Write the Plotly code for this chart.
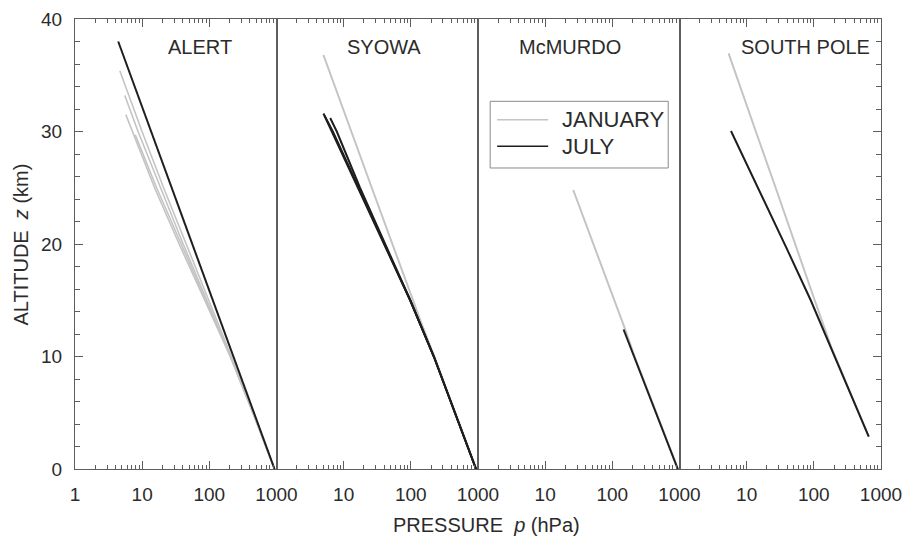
import plotly.graph_objects as go

FONT = "Liberation Sans, Arial, Helvetica, sans-serif"
AXIS = "#5e5e5e"
TXT = "#2b2b2b"
JAN_COLOR = "#c4c4c4"
JUL_COLOR = "#1e1e1e"

STATIONS = ["ALERT", "SYOWA", "McMURDO", "SOUTH POLE"]

# ---- ALERT: altitude z (km) and pressure p (hPa) ----
ALERT_JUL_Z = [0, 5, 10, 15, 20, 25, 30, 35, 38.0]
ALERT_JUL_P = [935, 461, 228, 112.6, 55.6, 27.5, 13.6, 6.7, 4.4]
ALERT_JAN_Z = [
    [0, 5, 10, 15, 20, 25, 30, 35.4],
    [0, 5, 10, 15, 20, 25, 30, 33.2],
    [0, 5, 10, 15, 20, 25, 29.7],
    [0, 5, 10, 15, 20, 25, 30, 31.5],
]
ALERT_JAN_P = [
    [933, 445.6, 212.6, 98.0, 45.2, 20.85, 9.95, 4.65],
    [933, 445.6, 205.4, 91.5, 40.8, 18.8, 8.68, 5.52],
    [933, 445.6, 205.4, 88.4, 38.1, 16.4, 7.89],
    [933, 445.6, 205.4, 85.4, 35.5, 15.3, 7.06, 5.71],
]

# ---- SYOWA ----
SYOWA_JUL_Z = [
    [0, 5, 10, 15, 20, 25, 30, 31.6],
    [0, 5, 10, 15, 20, 25, 30, 31.2],
    [0, 5, 10, 15, 20, 25, 30, 31.4],
]
SYOWA_JUL_P = [
    [935, 456, 220, 97.7, 39.8, 16.3, 6.68, 5.0],
    [935, 456, 220, 98.3, 40.9, 17.5, 7.9, 6.3],
    [935, 456, 220, 97.9, 40.1, 16.6, 6.9, 5.2],
]
SYOWA_JAN_Z = [[0, 5, 10, 13, 20, 25, 30, 36.8]]
SYOWA_JAN_P = [[945, 462, 224, 143, 52.5, 26.2, 13.0, 5.0]]

# ---- McMURDO ----
MCMURDO_JUL_Z = [[0, 5, 10, 12.4]]
MCMURDO_JUL_P = [[943, 446, 209, 147]]
MCMURDO_JAN_Z = [[0, 5, 10, 12.65, 15, 20, 24.8]]
MCMURDO_JAN_P = [[950, 452, 215, 150, 106.7, 52.1, 26.2]]

# ---- SOUTH POLE ----
SPOLE_JUL_Z = [[2.87, 5, 10, 15, 19.5, 25, 30.04]]
SPOLE_JUL_P = [[657, 465, 206, 89.9, 40.2, 14.7, 5.84]]
SPOLE_JAN_Z = [[2.87, 5, 10.9, 15, 19.5, 25, 30, 36.95]]
SPOLE_JAN_P = [[657, 467, 180, 103, 56.8, 27.0, 13.7, 5.38]]

PANELS = [
    (ALERT_JAN_Z, ALERT_JAN_P, [ALERT_JUL_Z], [ALERT_JUL_P], 1.6),
    (SYOWA_JAN_Z, SYOWA_JAN_P, SYOWA_JUL_Z, SYOWA_JUL_P, 2),
    (MCMURDO_JAN_Z, MCMURDO_JAN_P, MCMURDO_JUL_Z, MCMURDO_JUL_P, 2),
    (SPOLE_JAN_Z, SPOLE_JAN_P, SPOLE_JUL_Z, SPOLE_JUL_P, 2),
]

LEGEND_LABELS = ["JANUARY", "JULY"]
LEGEND_COLORS = [JAN_COLOR, JUL_COLOR]

X_MAJOR = [1, 10, 100, 1000]
X_MINOR = [m * d for d in (1, 10, 100) for m in range(2, 10)]
Y_MAJOR = [0, 10, 20, 30, 40]
LABEL_POS = [0.618, 0.533, 0.457, 0.623]

fig = go.Figure()

for i, (jz, jp, uz, up, jan_w) in enumerate(PANELS):
    xr = "x" if i == 0 else f"x{i + 1}"
    yr = "y" if i == 0 else f"y{i + 1}"
    for z, p in zip(jz, jp):
        fig.add_trace(go.Scatter(
            x=p, y=z, mode="lines", xaxis=xr, yaxis=yr,
            line=dict(color=JAN_COLOR, width=jan_w),
            name="JANUARY", showlegend=False, hoverinfo="skip"))
    for z, p in zip(uz, up):
        fig.add_trace(go.Scatter(
            x=p, y=z, mode="lines", xaxis=xr, yaxis=yr,
            line=dict(color=JUL_COLOR, width=2),
            name="JULY", showlegend=False, hoverinfo="skip"))

layout = dict(
    template="none",
    width=903, height=537,
    margin=dict(l=75, r=22, t=19, b=68, pad=0),
    paper_bgcolor="white", plot_bgcolor="white",
    font=dict(family=FONT, color=TXT, size=19),
    showlegend=False,
)

tick_common = dict(ticks="inside", ticklen=8, tickwidth=1, tickcolor=AXIS)
x_minor = dict(tickmode="array", tickvals=X_MINOR, ticks="inside",
               ticklen=4, tickwidth=1, tickcolor=AXIS, showgrid=False)
y_minor = dict(tickmode="linear", tick0=0, dtick=2, ticks="inside",
               ticklen=5, tickwidth=1, tickcolor=AXIS, showgrid=False)

for i in range(4):
    xk = "xaxis" if i == 0 else f"xaxis{i + 1}"
    yk = "yaxis" if i == 0 else f"yaxis{i + 1}"
    xid = "x" if i == 0 else f"x{i + 1}"
    yid = "y" if i == 0 else f"y{i + 1}"
    ticktext = ["1" if i == 0 else "", "10", "100", "1000"]
    layout[xk] = dict(
        type="log", range=[0, 3], domain=[i / 4, (i + 1) / 4], anchor=yid,
        tickmode="array", tickvals=X_MAJOR, ticktext=ticktext,
        minor=x_minor, showline=True, linecolor=AXIS, linewidth=1,
        mirror="ticks", showgrid=False, zeroline=False, ticklabelstandoff=8,
        automargin=False, tickfont=dict(size=19, color=TXT), fixedrange=True,
        **tick_common)
    ya = dict(
        range=[0, 40], domain=[0, 1], anchor=xid,
        showline=True, linecolor=AXIS, linewidth=1, mirror=True,
        showgrid=False, zeroline=False, fixedrange=True, automargin=False)
    if i == 0:
        ya.update(tickmode="array", tickvals=Y_MAJOR, minor=y_minor,
                  ticklabelstandoff=8, tickfont=dict(size=19, color=TXT),
                  **tick_common)
    elif i == 3:
        ya.update(side="right", tickmode="array", tickvals=Y_MAJOR,
                  minor=y_minor, showticklabels=False, **tick_common)
    else:
        ya.update(ticks="", showticklabels=False)
    layout[yk] = ya

annotations = []
for i, name in enumerate(STATIONS):
    xd = "x domain" if i == 0 else f"x{i + 1} domain"
    annotations.append(dict(
        text=name, xref=xd, yref="paper", x=LABEL_POS[i], y=0.937,
        xanchor="center", yanchor="middle", showarrow=False,
        font=dict(size=20, color=TXT)))

annotations.append(dict(
    text="PRESSURE&nbsp; <i>p</i> (hPa)", xref="paper", yref="paper",
    x=0.5105, y=-0.124, xanchor="center", yanchor="middle", showarrow=False,
    font=dict(size=20, color=TXT)))
annotations.append(dict(
    text="ALTITUDE&nbsp; <i>z</i> (km)", xref="paper", yref="paper",
    x=-0.0664, y=0.5, xanchor="center", yanchor="middle", textangle=-90,
    showarrow=False, font=dict(size=20, color=TXT)))

# legend box inside the McMURDO panel (paper coordinates)
LEG_X0, LEG_X1, LEG_Y0, LEG_Y1 = 0.5151, 0.7360, 0.6689, 0.8171
LEG_ROWS = [0.7762, 0.7171]
shapes = [dict(type="rect", xref="paper", yref="paper",
               x0=LEG_X0, x1=LEG_X1, y0=LEG_Y0, y1=LEG_Y1,
               line=dict(color="#8a8a8a", width=1), fillcolor="white",
               layer="above")]
for label, color, yrow in zip(LEGEND_LABELS, LEGEND_COLORS, LEG_ROWS):
    shapes.append(dict(type="line", xref="paper", yref="paper",
                       x0=0.5238, x1=0.5871, y0=yrow, y1=yrow,
                       line=dict(color=color, width=1.6), layer="above"))
    annotations.append(dict(
        text=label, xref="paper", yref="paper", x=0.6017, y=yrow,
        xanchor="left", yanchor="middle", showarrow=False,
        font=dict(size=22, color=TXT)))

layout["annotations"] = annotations
layout["shapes"] = shapes
fig.update_layout(**layout)

fig.write_html("out.html")
